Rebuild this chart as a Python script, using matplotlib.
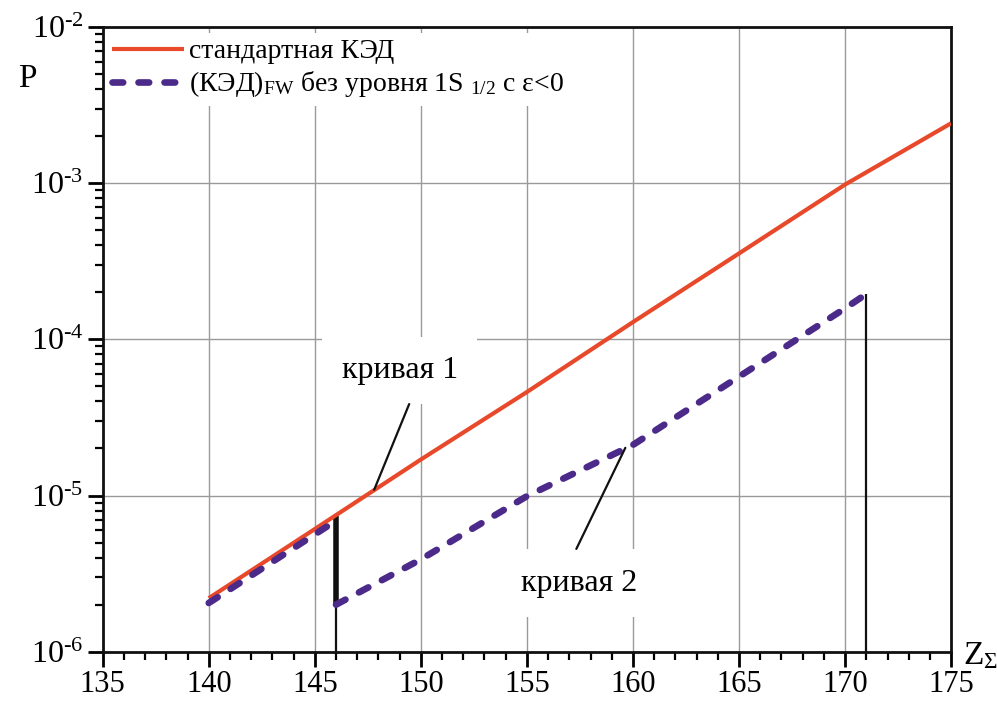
import matplotlib
matplotlib.use("Agg")
import matplotlib.pyplot as plt
import numpy as np
from matplotlib.ticker import LogLocator, MultipleLocator, FixedLocator, NullFormatter

plt.rcParams['font.family'] = ['Liberation Serif', 'DejaVu Serif']
plt.rcParams['mathtext.fontset'] = 'custom'
plt.rcParams['mathtext.rm'] = 'Liberation Serif'
plt.rcParams['mathtext.it'] = 'Liberation Serif:italic'
plt.rcParams['mathtext.bf'] = 'Liberation Serif:bold'

# ---- data ----
z_std = [140, 145, 150, 155, 160, 165, 170, 175]
p_std = [2.2e-6, 6.1e-6, 1.7e-5, 4.6e-5, 1.29e-4, 3.55e-4, 9.8e-4, 2.42e-3]

z_fw_a = [140, 146]
p_fw_a = [2.05e-6, 6.9e-6]

z_fw_b = [146, 150, 155, 160, 165, 170, 171]
p_fw_b = [2.0e-6, 3.9e-6, 9.9e-6, 2.11e-5, 5.77e-5, 1.58e-4, 1.95e-4]

z_jump = 146
p_jump = [2.0e-6, 7.4e-6]
z_cut = 171
p_floor = 1e-6

x_ticks = [135, 140, 145, 150, 155, 160, 165, 170, 175]
y_ticks = [1e-6, 1e-5, 1e-4, 1e-3, 1e-2]
y_ticklabels = ['$10^{\\text{-6}}$', '$10^{\\text{-5}}$', '$10^{\\text{-4}}$',
                '$10^{\\text{-3}}$', '$10^{\\text{-2}}$']

label_std = 'стандартная КЭД'
label_fw = '(КЭД)$_{\\mathrm{FW}}$ без уровня 1S $_{1/2}$ с ε<0'

ann1_text = 'кривая 1'
ann1_pos = (149.0, 6.3e-5)
ann1_line = [(149.45, 3.85e-5), (147.8, 1.09e-5)]
ann2_text = 'кривая 2'
ann2_pos = (157.48, 2.75e-6)
ann2_line = [(157.33, 4.55e-6), (159.64, 2.02e-5)]

# ---- figure ----
fig = plt.figure(figsize=(9.97, 7.02), dpi=100)
ax = fig.add_axes([0.103, 0.0717, 0.851, 0.8898])
ax.set_yscale('log')
ax.set_xlim(135, 175)
ax.set_ylim(1e-6, 1e-2)

red = '#e8492b'
purple = '#4b2a8a'

ax.grid(True, which='major', color='#9a9a9a', lw=1.0, zorder=0)
ax.set_axisbelow(True)

ax.plot(z_std, p_std, color=red, lw=3.0, solid_capstyle='butt', zorder=4, label=label_std)
ax.plot(z_fw_a, p_fw_a, color=purple, lw=4.8, ls=(0, (1.6, 2.3)), dash_capstyle='round', zorder=5,
        label=label_fw)
ax.plot(z_fw_b, p_fw_b, color=purple, lw=4.8, ls=(0, (1.6, 2.3)), dash_capstyle='round', zorder=5)

ax.vlines(z_jump, p_jump[0], p_jump[1], color='#111111', lw=4.0, zorder=3)
ax.vlines(z_jump, p_floor, p_jump[0], color='#111111', lw=1.6, zorder=3)
ax.vlines(z_cut, p_floor, p_fw_b[-1], color='#111111', lw=1.6, zorder=3)

# annotations
ax.text(*ann1_pos, ann1_text, fontsize=23, ha='center', va='center', zorder=2,
        bbox=dict(boxstyle='square,pad=0.6', fc='white', ec='none'))
ax.annotate('', xy=ann1_line[1], xytext=ann1_line[0],
            arrowprops=dict(arrowstyle='-', lw=1.6, color='#111111', shrinkA=0, shrinkB=0), zorder=6)
ax.text(*ann2_pos, ann2_text, fontsize=23, ha='center', va='center', zorder=2,
        bbox=dict(boxstyle='square,pad=0.6', fc='white', ec='none'))
ax.annotate('', xy=ann2_line[1], xytext=ann2_line[0],
            arrowprops=dict(arrowstyle='-', lw=1.6, color='#111111', shrinkA=0, shrinkB=0), zorder=6)

# ticks
ax.xaxis.set_major_locator(FixedLocator(x_ticks))
ax.xaxis.set_minor_locator(MultipleLocator(1))
ax.set_xticklabels([str(t) for t in x_ticks])
ax.yaxis.set_major_locator(FixedLocator(y_ticks))
ax.set_yticklabels(y_ticklabels)
ax.yaxis.set_minor_locator(LogLocator(base=10, subs=np.arange(2, 10)))
ax.yaxis.set_minor_formatter(NullFormatter())
ax.tick_params(which='major', direction='out', length=11, width=2.0, labelsize=22, pad=2,
               top=False, right=False)
ax.tick_params(which='minor', direction='out', length=6, width=1.6, top=False, right=False)
ax.tick_params(axis='y', which='major', labelsize=23, pad=3)

for s in ax.spines.values():
    s.set_linewidth(2.0)
    s.set_color('#111111')

# axis labels
fig.text(0.018, 0.888, 'P', fontsize=24, ha='left', va='center')
fig.text(0.966, 0.066, 'Z$_{\\Sigma}$', fontsize=24, ha='left', va='center')

leg = ax.legend(loc='upper left', bbox_to_anchor=(0.0, 0.995), fontsize=20, frameon=True,
                fancybox=False, framealpha=1, facecolor='white', edgecolor='none',
                handlelength=2.6, handletextpad=0.2, labelspacing=0.18, borderpad=0.22,
                borderaxespad=0.1)
leg.set_zorder(7)

fig.savefig('out.png', dpi=100)
